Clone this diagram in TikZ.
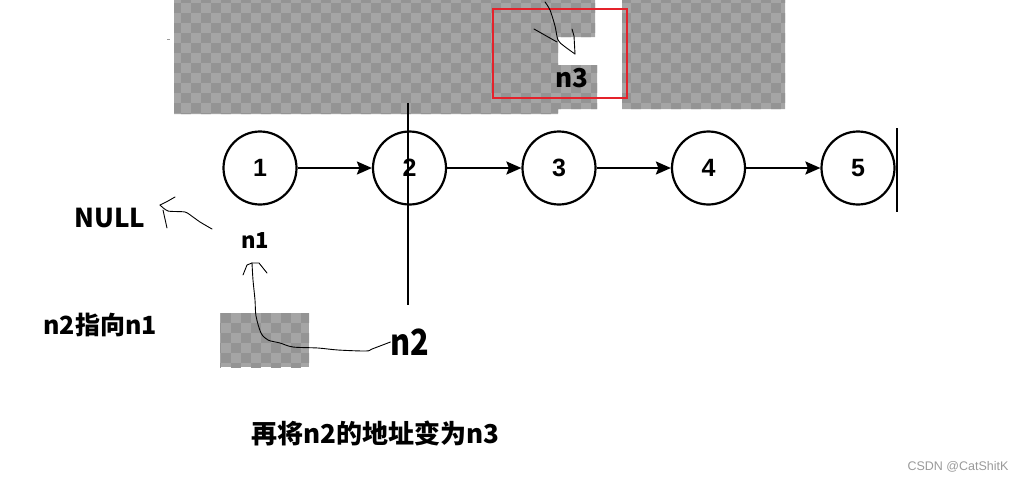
\documentclass[tikz,border=0pt]{standalone}
\usepackage{fontspec}
\usetikzlibrary{arrows.meta}
\newfontfamily\cjk{Noto Sans CJK SC}
\newfontfamily\numfont{Liberation Sans}
\definecolor{chkLight}{HTML}{A5A5A5}
\definecolor{chkDark}{HTML}{949494}
\definecolor{boxRed}{HTML}{E5222B}
\definecolor{markGray}{HTML}{9A9A9A}

\begin{document}
\begin{tikzpicture}[x=1pt,y=-1pt,
  nd/.style={circle,draw,fill=white,line width=2.2pt,minimum size=73pt,inner sep=0pt,
    font=\numfont\bfseries\fontsize{25}{28}\selectfont},
  lnk/.style={draw,line width=2pt,-{Stealth[length=15pt,width=13pt,inset=2.5pt]}},
  hand/.style={draw,line width=0.9pt,line join=round,line cap=round},
  bar/.style={draw,line width=1.2pt},
  lbl/.style={font=\cjk\bfseries\fontsize{#1}{#1}\selectfont,inner sep=0pt},
  sq/.style={fill=chkDark},
]
\useasboundingbox (0,0) rectangle (1027,483);

% ---- transparent patches ---------------------------------------------
\begin{scope}
  \clip (174,0) -- (595,0) -- (595,37) -- (558,37) -- (558,65) -- (597,65)
    -- (597,109) -- (558,109) -- (558,114) -- (174,114) -- cycle
    (622,0) rectangle (785,109);
  \fill[chkLight] (170,0) rectangle (790,120);
  \foreach \x in {171,191,...,791}
    \foreach \y in {-17,3,...,113}{
      \fill[sq] (\x,\y) rectangle ++(10,10);
      \fill[sq] (\x+10,\y+10) rectangle ++(10,10);
    }
\end{scope}
\begin{scope}
  \clip (220,313) rectangle (309,367);
  \fill[chkLight] (220,313) rectangle (309,367);
  \foreach \x in {211,231,...,311}
    \foreach \y in {303,323,...,363}{
      \fill[sq] (\x,\y) rectangle ++(10,10);
      \fill[sq] (\x+10,\y+10) rectangle ++(10,10);
    }
\end{scope}
\draw[markGray,line width=1pt] (167,39) -- (170,39);

% ---- list ---------------------------------------------------------------
\foreach \i in {1,...,5}
  \node[nd] (c\i) at ({260+149.5*(\i-1)},168) {\i};
\foreach \i/\j in {1/2,2/3,3/4,4/5}
  \draw[lnk] (c\i) -- (c\j);

% cut lines
\coordinate (vtop) at (408,103);
\coordinate (vbot) at (408,305);
\draw[bar] (vtop) -- (vbot);
\coordinate (rtop) at (897,128);
\coordinate (rbot) at (897,212);
\draw[bar] (rtop) -- (rbot);

% ---- labels -------------------------------------------------------------
\node[lbl=26] (null) at (110,218) {NULL};
\node[lbl=22] (n1) at (255,241) {n1};
\node[lbl=25] (say) at (100,325) {n2指向n1};
\node[lbl=36,xscale=0.85] (n2) at (410,342) {n2};
\node[lbl=26] (tail) at (375,433) {再将n2的地址变为n3};
\node[font=\numfont\fontsize{12.5}{14}\selectfont,text=markGray] (wm) at (958,467) {CSDN @CatShitK};

\node[lbl=26] (n3) at (572,78) {n3};
\draw[boxRed,line width=2pt] (493,9) rectangle (627,98);

% ---- hand-drawn pointers ------------------------------------------------
\coordinate (n3tip) at (575,54);
\draw[hand] plot[smooth,tension=0.5] coordinates {(545,2) (550,10) (555,26) (558,40) (564,46) (n3tip)};
\draw[hand] (534,29) -- (557,42);
\draw[hand] (572,29) -- (574,36) -- (n3tip);

\coordinate (nulltip) at (160,205);
\draw[hand] plot[smooth,tension=0.4] coordinates {(212,229) (200,222) (193,217) (185,212) (168,211) (nulltip)};
\draw[hand] (nulltip) -- (168,201) -- (175,197);
\draw[hand] (163,210) -- (165,219) -- (167,228);

\coordinate (n1tip) at (252,263);
\draw[hand] plot[smooth,tension=0.5] coordinates {(n2.west) (372,349) (366,351) (338,350) (318,348)
  (293,347) (280,343) (268,340) (261,333) (256,316) (255,300) (253,280) (n1tip)};
\draw[hand] (n1tip) -- (247,265) -- (243,275);
\draw[hand] (n1tip) -- (259,263) -- (267,273);

\end{tikzpicture}
\end{document}
